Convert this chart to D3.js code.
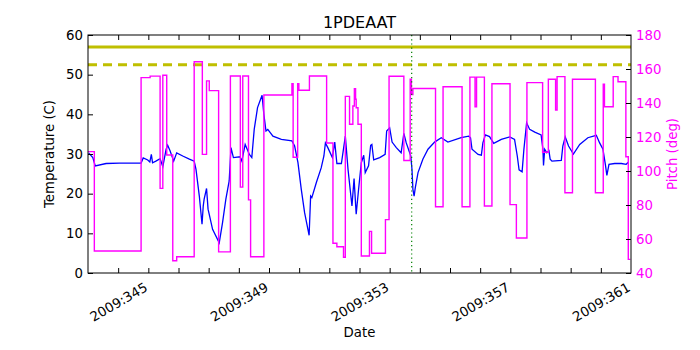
<!DOCTYPE html>
<html>
<head>
<meta charset="utf-8">
<script src="https://cdn.jsdelivr.net/npm/d3@7"></script>
<style>
  body { margin: 0; background: #fff; }
  text { font-family: "DejaVu Sans", sans-serif; }
</style>
</head>
<body>
<div id="chart"></div>
<script>
// temperature (left axis), day of year 2009
const tempDays = [344.02,344.16,344.24,344.60,345.04,345.76,345.83,345.98,346.05,346.10,346.14,346.25,346.39,346.48,346.59,346.64,346.72,346.84,346.94,347.14,347.36,347.52,347.58,347.69,347.78,347.82,347.85,347.93,347.98,348.13,348.35,348.46,348.57,348.68,348.74,348.82,349.04,349.10,349.21,349.35,349.43,349.51,349.62,349.77,349.83,349.90,349.96,350.13,350.41,350.76,350.85,350.96,351.07,351.18,351.33,351.38,351.42,351.57,351.73,351.82,351.87,351.95,352.10,352.18,352.25,352.40,352.53,352.62,352.75,352.82,352.89,352.97,353.06,353.14,353.19,353.30,353.37,353.41,353.47,353.67,353.85,353.90,354.00,354.08,354.22,354.38,354.47,354.55,354.70,354.74,354.77,354.81,354.85,354.94,355.10,355.27,355.49,355.71,355.93,356.37,356.62,356.68,356.73,356.93,357.04,357.09,357.17,357.31,357.45,357.70,357.98,358.14,358.23,358.29,358.39,358.45,358.54,358.64,358.81,359.02,359.08,359.10,359.14,359.21,359.28,359.32,359.38,359.69,359.74,359.82,359.93,360.09,360.30,360.57,360.85,360.96,361.07,361.15,361.20,361.27,361.46,361.68,361.84,361.92];
const tempVals = [30.3,29.1,27.0,27.6,27.7,27.7,29.0,28.5,28.0,29.9,27.8,28.2,28.8,26.8,31.2,32.2,30.8,28.2,30.3,29.5,28.7,28.2,26.1,19.4,12.3,16.9,18.6,21.3,16.1,11.0,7.6,12.7,18.6,23.2,31.6,29.1,29.3,28.2,32.4,29.9,29.1,36.2,41.7,44.8,40.0,35.8,36.2,34.5,33.7,33.3,32.0,27.8,21.1,15.2,9.5,19.4,19.0,22.8,26.5,29.5,32.8,31.6,29.1,33.0,27.6,27.6,34.5,26.1,16.9,23.8,14.8,21.1,27.8,29.7,25.3,27.0,32.2,32.4,28.5,29.1,29.9,35.8,36.6,33.0,31.6,30.3,35.2,32.8,29.5,26.1,21.1,19.4,21.5,25.3,28.7,31.2,33.0,34.1,33.0,34.1,34.5,34.1,31.2,29.9,29.7,32.8,34.8,34.4,32.7,33.7,34.3,33.7,29.5,26.0,25.5,31.2,37.9,36.2,35.5,34.8,31.2,27.1,31.2,30.3,30.8,28.7,28.2,28.4,32.0,34.3,32.0,30.0,32.4,34.1,34.7,32.8,31.2,27.4,24.6,27.4,27.6,27.6,27.4,28.0];

// pitch (right axis), each value holds until the next day
const pitchDays = [344.00,344.21,345.76,346.06,346.39,346.48,346.61,346.81,346.94,347.52,347.79,347.93,348.02,348.33,348.72,349.05,349.13,349.32,349.39,349.83,350.76,350.80,350.95,350.99,351.34,351.91,352.12,352.25,352.47,352.53,352.67,352.78,352.83,352.87,352.89,352.95,353.06,353.33,353.40,353.86,353.98,354.47,354.68,354.72,354.77,355.52,355.77,356.40,356.66,356.83,356.88,357.14,357.39,357.99,358.20,358.55,359.07,359.26,359.50,359.55,359.81,360.06,360.82,361.08,361.12,361.41,361.57,361.83,361.91,361.98];
const pitchVals = [111.4,52.9,154.9,155.8,89.8,156.3,109.4,47.2,49.6,164.3,109.8,153.0,147.3,52.4,155.9,90.5,155.9,83.0,49.6,144.7,151.3,108.1,151.3,147.5,155.9,116.5,57.5,55.4,49.3,143.9,127.5,138.2,148.4,142.2,137.2,127.5,50.0,64.5,51.6,71.4,155.7,106.2,154.0,145.0,148.5,79.0,149.6,79.0,155.2,137.8,155.2,79.4,151.3,80.2,60.6,152.0,111.0,154.0,135.9,155.5,87.2,154.0,87.2,151.0,137.8,155.5,152.5,108.4,48.0,48.0];

const limitHigh = 57;
const limitLow = 52.5;
const markerDay = 354.73;

const majorDays = [345, 349, 353, 357, 361];
const minorDays = d3.range(345, 362);
const tempTicks = [0, 10, 20, 30, 40, 50, 60];
const pitchTicks = [40, 60, 80, 100, 120, 140, 160, 180];

const width = 700, height = 350;
const margin = {top: 35, right: 69, bottom: 77, left: 88};

const svg = d3.select("#chart").append("svg")
    .attr("width", width)
    .attr("height", height);

const x = d3.scaleLinear().domain([344, 362]).range([margin.left, width - margin.right]);
const yT = d3.scaleLinear().domain([0, 60]).range([height - margin.bottom, margin.top]);
const yP = d3.scaleLinear().domain([40, 180]).range([height - margin.bottom, margin.top]);

svg.append("clipPath").attr("id", "clip")
    .append("rect")
    .attr("x", margin.left).attr("y", margin.top)
    .attr("width", width - margin.left - margin.right)
    .attr("height", height - margin.top - margin.bottom);

const plot = svg.append("g").attr("clip-path", "url(#clip)");

const tempLine = d3.line()
    .x((d, i) => x(tempDays[i]))
    .y(d => yT(d));

plot.append("path")
    .datum(tempVals)
    .attr("d", tempLine)
    .attr("fill", "none")
    .attr("stroke", "#0000ff")
    .attr("stroke-width", 1.3);

plot.append("line")
    .attr("x1", x(344)).attr("x2", x(362))
    .attr("y1", yT(limitHigh)).attr("y2", yT(limitHigh))
    .attr("stroke", "#bfbf00").attr("stroke-width", 3);

plot.append("line")
    .attr("x1", x(344)).attr("x2", x(362))
    .attr("y1", yT(limitLow)).attr("y2", yT(limitLow))
    .attr("stroke", "#bfbf00").attr("stroke-width", 3)
    .attr("stroke-dasharray", "9,6");

const pitchLine = d3.line()
    .curve(d3.curveStepAfter)
    .x((d, i) => x(pitchDays[i]))
    .y(d => yP(d));

plot.append("path")
    .datum(pitchVals)
    .attr("d", pitchLine)
    .attr("fill", "none")
    .attr("stroke", "#ff00ff")
    .attr("stroke-width", 1.4);

plot.append("line")
    .attr("x1", x(markerDay)).attr("x2", x(markerDay))
    .attr("y1", margin.top).attr("y2", height - margin.bottom)
    .attr("stroke", "#008000").attr("stroke-width", 1.2)
    .attr("stroke-dasharray", "1.2,3");

// axes
const fs = "13.3px";

const xb = svg.append("g")
    .attr("transform", `translate(0,${height - margin.bottom})`)
    .call(d3.axisBottom(x).tickValues(minorDays).tickSizeInner(-5).tickSizeOuter(0)
        .tickFormat(d => majorDays.includes(d) ? "2009:" + d : ""));
xb.select(".domain").remove();
xb.selectAll("text")
    .attr("y", 0).attr("dy", "0.35em")
    .attr("text-anchor", "middle")
    .attr("transform", "translate(0,29) rotate(-30)")
    .style("font-size", fs).attr("fill", "#000");

const xt = svg.append("g")
    .attr("transform", `translate(0,${margin.top})`)
    .call(d3.axisTop(x).tickValues(minorDays).tickSizeInner(-5).tickSizeOuter(0).tickFormat(""));
xt.select(".domain").remove();

const yl = svg.append("g")
    .attr("transform", `translate(${margin.left},0)`)
    .call(d3.axisLeft(yT).tickValues(tempTicks).tickSizeInner(-5).tickSizeOuter(0).tickPadding(5));
yl.select(".domain").remove();
yl.selectAll("text").style("font-size", fs).attr("fill", "#000");

const yr = svg.append("g")
    .attr("transform", `translate(${width - margin.right},0)`)
    .call(d3.axisRight(yP).tickValues(pitchTicks).tickSizeInner(-5).tickSizeOuter(0).tickPadding(5));
yr.select(".domain").remove();
yr.selectAll("text").style("font-size", fs).attr("fill", "#ff00ff");

svg.append("rect")
    .attr("x", margin.left).attr("y", margin.top)
    .attr("width", width - margin.left - margin.right)
    .attr("height", height - margin.top - margin.bottom)
    .attr("fill", "none").attr("stroke", "#000").attr("stroke-width", 1);

// labels
svg.append("text")
    .attr("x", (margin.left + width - margin.right) / 2).attr("y", 28)
    .attr("text-anchor", "middle")
    .style("font-size", "16px")
    .text("1PDEAAT");

svg.append("text")
    .attr("x", (margin.left + width - margin.right) / 2).attr("y", 337)
    .attr("text-anchor", "middle")
    .style("font-size", fs)
    .text("Date");

svg.append("text")
    .attr("transform", `translate(54,154) rotate(-90)`)
    .attr("text-anchor", "middle")
    .style("font-size", fs)
    .text("Temperature (C)");

svg.append("text")
    .attr("transform", `translate(677,154) rotate(-90)`)
    .attr("text-anchor", "middle")
    .style("font-size", fs)
    .attr("fill", "#ff00ff")
    .text("Pitch (deg)");
</script>
</body>
</html>
